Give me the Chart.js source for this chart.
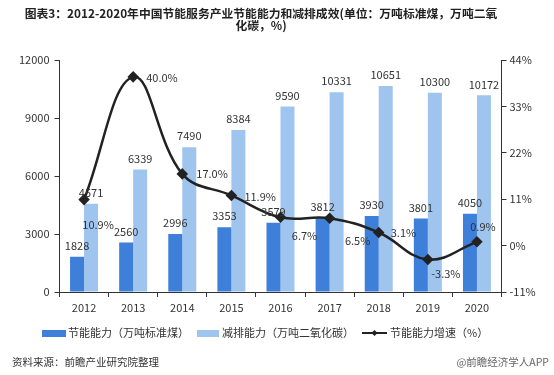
<!DOCTYPE html>
<html>
<head>
<meta charset="utf-8">
<script src="https://cdn.jsdelivr.net/npm/chart.js@4"></script>
<style>
  html, body { margin: 0; padding: 0; background: #fff; }
  #wrap { width: 554px; height: 375px; }
</style>
</head>
<body>
<div id="wrap"><canvas id="chart" width="554" height="375"></canvas></div>
<script>
const years = ["2012", "2013", "2014", "2015", "2016", "2017", "2018", "2019", "2020"];
const saving = [1828, 2560, 2996, 3353, 3579, 3812, 3930, 3801, 4050];      // 节能能力
const reduction = [4571, 6339, 7490, 8384, 9590, 10331, 10651, 10300, 10172]; // 减排能力
const growth = [10.9, 40.0, 17.0, 11.9, 6.7, 6.5, 3.1, -3.3, 0.9];          // 节能能力增速
const leftTicks = [0, 3000, 6000, 9000, 12000];
const rightTicks = [-11, 0, 11, 22, 33, 44];

const DARK = "#3d7fd9";
const LIGHT = "#9fc5ef";
const LINE = "#222";
const TXT = "#333";
const CJK = "'Noto Sans CJK SC', 'Noto Sans', sans-serif";

// where each growth label sits relative to its point: [dx, dy, align]
const growthLabelPos = [
    [14, 25, "center"], [13, 1, "left"], [14, 0, "left"], [13, 1, "left"],
    [24, 18, "center"], [28, 23, "center"], [12, 0, "left"], [18, 14, "center"], [6, -15, "center"]
];

const textPlugin = {
    id: "texts",
    afterDatasetsDraw(chart) {
        const c = chart.ctx;
        c.save();
        c.fillStyle = TXT;
        c.textBaseline = "middle";
        c.font = "11px " + CJK;
        c.textAlign = "center";
        // bar value labels
        [0, 1].forEach(i => {
            const meta = chart.getDatasetMeta(i);
            meta.data.forEach((bar, j) => {
                c.fillText(String(chart.data.datasets[i].data[j]), bar.x, bar.y - 11);
            });
        });
        // growth labels
        const lm = chart.getDatasetMeta(2);
        lm.data.forEach((pt, j) => {
            const p = growthLabelPos[j];
            c.textAlign = p[2];
            c.fillText(growth[j].toFixed(1) + "%", pt.x + p[0], pt.y + p[1]);
        });
        c.restore();
    },
    afterDraw(chart) {
        const c = chart.ctx;
        c.save();
        c.textBaseline = "middle";
        // title
        c.fillStyle = "#222";
        c.font = "bold 11.8px " + CJK;
        c.textAlign = "center";
        c.fillText("图表3：2012-2020年中国节能服务产业节能能力和减排成效(单位：万吨标准煤，万吨二氧", 261, 14);
        c.fillText("化碳，%)", 261, 26);
        // legend
        const ly = 333;
        c.font = "11px " + CJK;
        c.textAlign = "left";
        c.fillStyle = DARK;
        c.fillRect(42, ly - 3, 24, 7);
        c.fillStyle = TXT;
        c.fillText("节能能力（万吨标准煤）", 68, ly);
        c.fillStyle = LIGHT;
        c.fillRect(197, ly - 3, 22, 7);
        c.fillStyle = TXT;
        c.fillText("减排能力（万吨二氧化碳）", 222, ly);
        c.strokeStyle = LINE;
        c.lineWidth = 2;
        c.beginPath();
        c.moveTo(362, ly);
        c.lineTo(387, ly);
        c.stroke();
        c.fillStyle = LINE;
        c.beginPath();
        c.moveTo(374.5, ly - 3);
        c.lineTo(377.5, ly);
        c.lineTo(374.5, ly + 3);
        c.lineTo(371.5, ly);
        c.closePath();
        c.fill();
        c.fillStyle = TXT;
        c.fillText("节能能力增速（%）", 390, ly);
        // source
        c.font = "10.5px " + CJK;
        c.fillText("资料来源：前瞻产业研究院整理", 12, 362);
        c.textAlign = "right";
        c.fillStyle = "#666";
        c.fillText("@前瞻经济学人APP", 549, 362);
        c.restore();
    }
};

new Chart(document.getElementById("chart"), {
    data: {
        labels: years,
        datasets: [
            {
                type: "bar",
                label: "节能能力（万吨标准煤）",
                data: saving,
                backgroundColor: DARK,
                yAxisID: "y",
                barPercentage: 1,
                categoryPercentage: 0.57,
                order: 2
            },
            {
                type: "bar",
                label: "减排能力（万吨二氧化碳）",
                data: reduction,
                backgroundColor: LIGHT,
                yAxisID: "y",
                barPercentage: 1,
                categoryPercentage: 0.57,
                order: 2
            },
            {
                type: "line",
                label: "节能能力增速（%）",
                data: growth,
                borderColor: LINE,
                backgroundColor: LINE,
                borderWidth: 2.5,
                tension: 0.4,
                pointStyle: "rectRot",
                pointRadius: 4,
                yAxisID: "y1",
                order: 1
            }
        ]
    },
    options: {
        responsive: false,
        animation: false,
        layout: { padding: { top: 60, left: 0, right: 0, bottom: 0 } },
        plugins: {
            legend: { display: false },
            title: { display: false },
            tooltip: { enabled: false }
        },
        scales: {
            x: {
                grid: { drawOnChartArea: false, offset: true, color: TXT, tickLength: 5 },
                border: { color: TXT, width: 1 },
                ticks: { color: TXT, font: { size: 11, family: CJK }, padding: 4 },
                afterFit(s) { s.height = 83; }
            },
            y: {
                position: "left",
                min: 0,
                max: 12000,
                afterBuildTicks(s) { s.ticks = leftTicks.map(v => ({ value: v })); },
                grid: { drawOnChartArea: false, color: TXT, tickLength: 5 },
                border: { color: TXT, width: 1 },
                ticks: {
                    color: TXT,
                    font: { size: 11, family: CJK },
                    padding: 5,
                    callback: v => String(v)
                },
                afterFit(s) { s.width = 59.5; }
            },
            y1: {
                position: "right",
                min: -11,
                max: 44,
                afterBuildTicks(s) { s.ticks = rightTicks.map(v => ({ value: v })); },
                grid: { drawOnChartArea: false, color: TXT, tickLength: 5 },
                border: { color: TXT, width: 1 },
                ticks: {
                    color: TXT,
                    font: { size: 11, family: CJK },
                    padding: 3,
                    callback: v => v + "%"
                },
                afterFit(s) { s.width = 52.5; }
            }
        }
    },
    plugins: [textPlugin]
});
</script>
</body>
</html>
